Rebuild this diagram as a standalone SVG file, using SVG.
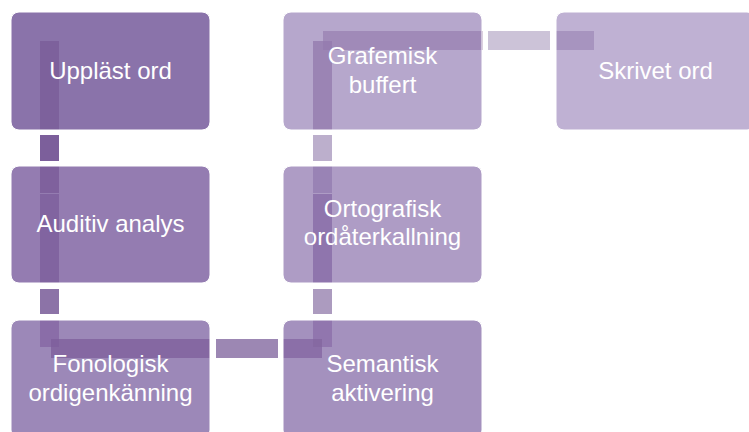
<svg xmlns="http://www.w3.org/2000/svg" width="749" height="432" viewBox="0 0 749 432">
  <style>
    .node rect { stroke: #ffffff; stroke-width: 1; fill-opacity: 0.7; }
    .node text { font-family: "Liberation Sans", Arial, sans-serif; font-size: 24px; fill: #ffffff; text-anchor: middle; }
  </style>
  <rect x="0" y="0" width="749" height="432" fill="#ffffff"/>
  <g id="connectors">
    <!-- Uppläst ord -> Auditiv analys -->
    <rect x="40" y="41" width="19" height="89" fill="#d4c3d0"/>
    <rect x="40" y="135" width="19" height="26" fill="#7c5f9b"/>
    <rect x="40" y="166" width="19" height="27" fill="#b9a5bc"/>
    <!-- Auditiv analys -> Fonologisk ordigenkänning -->
    <rect x="40" y="194" width="19" height="89" fill="#c0afc6"/>
    <rect x="40" y="289" width="19" height="25" fill="#8c73a7"/>
    <rect x="40" y="320" width="19" height="27" fill="#c3a5ca"/>
    <!-- Fonologisk ordigenkänning -> Semantisk aktivering -->
    <rect x="51" y="339" width="159" height="19" fill="#b294b6"/>
    <rect x="51" y="339" width="8" height="8" fill="#a27da8"/>
    <rect x="216" y="339" width="62" height="19" fill="#9c87b3"/>
    <rect x="283" y="339" width="39" height="19" fill="#ac8eb6"/>
    <!-- Semantisk aktivering -> Ortografisk ordåterkallning -->
    <rect x="313" y="320" width="19" height="27" fill="#c0a5ca"/>
    <rect x="313" y="339" width="9" height="8" fill="#9b7aa2"/>
    <rect x="313" y="289" width="19" height="25" fill="#ac9bbf"/>
    <rect x="313" y="194" width="19" height="89" fill="#987daf"/>
    <!-- Ortografisk ordåterkallning -> Grafemisk buffert -->
    <rect x="313" y="166" width="19" height="27" fill="#b9acca"/>
    <rect x="313" y="135" width="19" height="26" fill="#bcafcc"/>
    <rect x="313" y="41" width="19" height="89" fill="#a58aaf"/>
    <!-- Grafemisk buffert -> Skrivet ord -->
    <rect x="323" y="31" width="160" height="19" fill="#b69ebc"/>
    <rect x="323" y="41" width="9" height="9" fill="#9473a2"/>
    <rect x="488" y="31" width="62" height="19" fill="#ccc3d8"/>
    <rect x="556" y="31" width="38" height="19" fill="#af9ebc"/>
  </g>
  <g id="node-upplast-ord" class="node">
    <rect x="11" y="12" width="199" height="118" rx="8" fill="#593786"/>
    <text x="110.5" y="79">Uppläst ord</text>
  </g>
  <g id="node-auditiv-analys" class="node">
    <rect x="11" y="166" width="199" height="117" rx="8" fill="#664590"/>
    <text x="110.5" y="232">Auditiv analys</text>
  </g>
  <g id="node-fonologisk" class="node">
    <rect x="11" y="320" width="199" height="118" rx="8" fill="#72559a"/>
    <text x="110.5" y="372">Fonologisk</text>
    <text x="110.5" y="401">ordigenkänning</text>
  </g>
  <g id="node-semantisk" class="node">
    <rect x="283" y="320" width="199" height="118" rx="8" fill="#7e63a2"/>
    <text x="382.5" y="372">Semantisk</text>
    <text x="382.5" y="401">aktivering</text>
  </g>
  <g id="node-ortografisk" class="node">
    <rect x="283" y="166" width="199" height="117" rx="8" fill="#8b72ac"/>
    <text x="382.5" y="217">Ortografisk</text>
    <text x="382.5" y="245">ordåterkallning</text>
  </g>
  <g id="node-grafemisk" class="node">
    <rect x="283" y="12" width="199" height="118" rx="8" fill="#9781b6"/>
    <text x="382.5" y="64">Grafemisk</text>
    <text x="382.5" y="93">buffert</text>
  </g>
  <g id="node-skrivet-ord" class="node">
    <rect x="556" y="12" width="199" height="118" rx="8" fill="#a490c0"/>
    <text x="655.5" y="79">Skrivet ord</text>
  </g>
</svg>
